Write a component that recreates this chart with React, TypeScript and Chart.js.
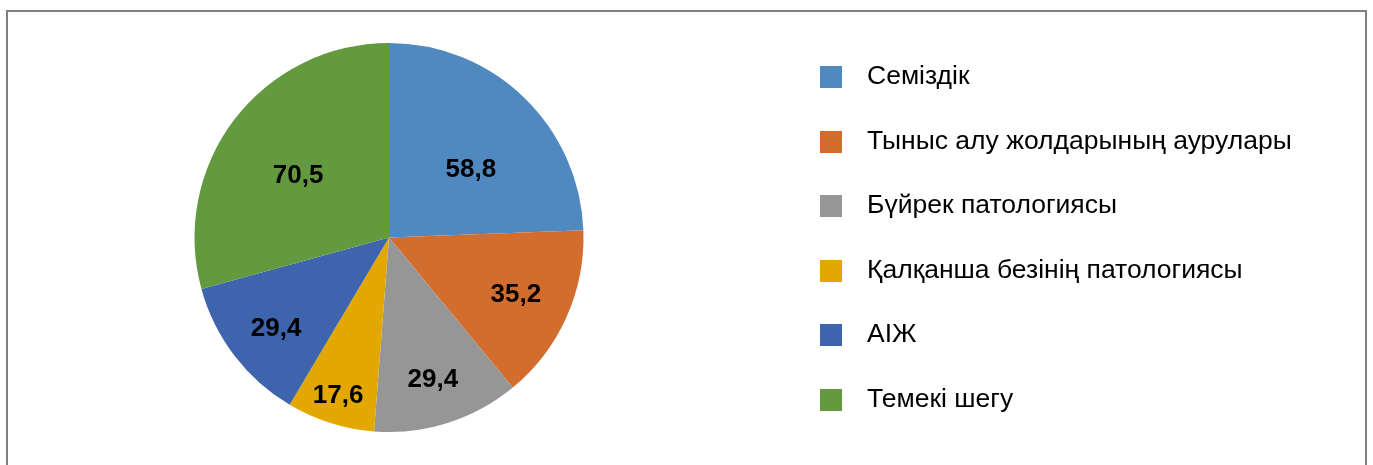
import React, { useEffect, useRef } from "react";
import { Chart, registerables } from "chart.js";

Chart.register(...registerables);

const CATEGORIES = [
  "Семіздік",
  "Тыныс алу жолдарының аурулары",
  "Бүйрек патологиясы",
  "Қалқанша безінің патологиясы",
  "АІЖ",
  "Темекі шегу",
];
const VALUES = [58.8, 35.2, 29.4, 17.6, 29.4, 70.5];
const COLORS = ["#5089C0", "#D36D2D", "#969696", "#E3A800", "#3D64AD", "#63993F"];

// label placement style (fraction of radius, angular shift in degrees)
const LABEL_RADIUS = [0.545, 0.715, 0.765, 0.853, 0.747, 0.566];
const LABEL_SHIFT = [6.6, 0, 0.4, 0.3, -1.7, -3];

const FONT = "'Liberation Sans', Arial, sans-serif";

const labelPlugin = {
  id: "sliceLabels",
  afterDatasetsDraw(chart: any) {
    const ctx = chart.ctx;
    const meta = chart.getDatasetMeta(0);
    const data = chart.data.datasets[0].data as number[];
    ctx.save();
    ctx.font = `bold 26px ${FONT}`;
    ctx.fillStyle = "#000";
    ctx.textAlign = "center";
    ctx.textBaseline = "middle";
    meta.data.forEach((arc: any, i: number) => {
      const p = arc.getProps(["x", "y", "startAngle", "endAngle", "outerRadius"], true);
      const mid = (p.startAngle + p.endAngle) / 2 + (LABEL_SHIFT[i] * Math.PI) / 180;
      const r = p.outerRadius * LABEL_RADIUS[i];
      const txt = data[i].toFixed(1).replace(".", ",");
      ctx.fillText(txt, p.x + Math.cos(mid) * r, p.y + Math.sin(mid) * r);
    });
    ctx.restore();
  },
};

const legendPlugin = {
  id: "sideLegend",
  afterDraw(chart: any) {
    const ctx = chart.ctx;
    const labels = chart.data.labels as string[];
    const colors = chart.data.datasets[0].backgroundColor as string[];
    const boxX = 820;
    const box = 22;
    const textX = 867;
    const startY = 77;
    const step = 64.5;
    ctx.save();
    ctx.font = `26.5px ${FONT}`;
    ctx.textBaseline = "middle";
    ctx.textAlign = "left";
    labels.forEach((lab, i) => {
      const cy = startY + i * step;
      ctx.fillStyle = colors[i];
      ctx.fillRect(boxX, Math.round(cy - box / 2), box, box);
      ctx.fillStyle = "#000";
      ctx.fillText(lab, textX, cy);
    });
    ctx.restore();
  },
};

export default function App() {
  const ref = useRef<HTMLCanvasElement | null>(null);
  useEffect(() => {
    if (!ref.current) return;
    const chart = new Chart(ref.current, {
      type: "pie",
      data: {
        labels: CATEGORIES,
        datasets: [
          {
            data: VALUES,
            backgroundColor: COLORS,
            borderWidth: 0,
          },
        ],
      },
      options: {
        responsive: false,
        animation: false,
        devicePixelRatio: 1,
        layout: { padding: { left: 194.5, right: 789.5, top: 43, bottom: 33 } },
        plugins: {
          legend: { display: false },
          tooltip: { enabled: false },
        },
      },
      plugins: [labelPlugin, legendPlugin],
    });
    return () => chart.destroy();
  }, []);
  return (
    <div style={{ position: "fixed", left: 0, top: 0, width: 1373, height: 465, background: "#fff", overflow: "hidden" }}>
      <div
        style={{
          position: "absolute",
          left: 6,
          top: 10,
          width: 1361,
          height: 470,
          border: "2px solid #7f7f7f",
          boxSizing: "border-box",
        }}
      />
      <canvas
        ref={ref}
        width={1373}
        height={465}
        style={{ position: "absolute", left: 0, top: 0, width: 1373, height: 465 }}
      />
    </div>
  );
}
